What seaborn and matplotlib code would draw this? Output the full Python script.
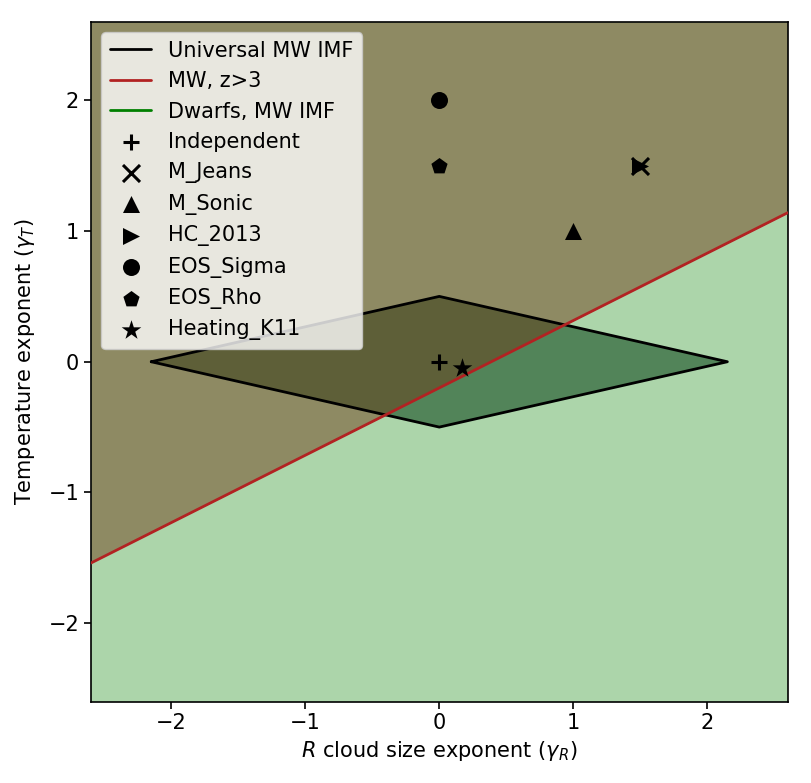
import numpy as np
import pandas as pd
import matplotlib
matplotlib.use("Agg")
import matplotlib.pyplot as plt
import seaborn as sns

# Data
diamond_x = [-2.15, 0.0, 2.15, 0.0, -2.15]
diamond_y = [0.0, 0.5, 0.0, -0.5, 0.0]

mw_x = [-2.6, 2.6]
mw_y = [-1.54, 1.14]

models = ["Independent", "M_Jeans", "M_Sonic", "HC_2013", "EOS_Sigma", "EOS_Rho", "Heating_K11"]
model_x = [0.0, 1.5, 1.0, 1.5, 0.0, 0.0, 0.17]
model_y = [0.0, 1.5, 1.0, 1.5, 2.0, 1.5, -0.05]
model_markers = ["+", "x", "^", ">", "o", "p", "*"]
model_sizes = [130, 150, 150, 150, 150, 150, 220]

sns.set_style("ticks")
plt.rcParams["font.family"] = ["DejaVu Sans"]
plt.rcParams.update({
    "font.size": 15,
    "text.color": "black",
    "axes.labelcolor": "black",
    "xtick.color": "black",
    "ytick.color": "black",
    "axes.edgecolor": "black",
    "xtick.direction": "out",
    "ytick.direction": "out",
})

fig, ax = plt.subplots(figsize=(8.12, 7.83), dpi=100)
fig.subplots_adjust(left=0.112, right=0.970, top=0.972, bottom=0.104)

lim = (-2.6, 2.6)
ax.set_facecolor("#acd5aa")

# diamond: Universal MW IMF
ax.fill(diamond_x, diamond_y, color="#003a10", alpha=0.52, lw=0, zorder=1)
# region above the MW z>3 line
ax.fill_between(mw_x, mw_y, [lim[1], lim[1]], color="#6d3713", alpha=0.47, lw=0, zorder=2)

sns.lineplot(x=diamond_x, y=diamond_y, sort=False, estimator=None, color="black", lw=2,
             label="Universal MW IMF", ax=ax, zorder=3)
sns.lineplot(x=mw_x, y=mw_y, sort=False, estimator=None, color="#b22222", lw=2,
             label="MW, z>3", ax=ax, zorder=3)
ax.plot([], [], color="green", lw=2, label="Dwarfs, MW IMF")

for name, x, y, m, sz in zip(models, model_x, model_y, model_markers, model_sizes):
    lined = m in ("+", "x")
    sns.scatterplot(x=[x], y=[y], marker=m, color="black", s=sz,
                    linewidth=2.2 if lined else 0, label=name, ax=ax, zorder=4)

ax.set_xlim(*lim)
ax.set_ylim(*lim)
ax.set_xticks([-2, -1, 0, 1, 2])
ax.set_yticks([-2, -1, 0, 1, 2])
ax.tick_params(length=5, width=1.2, labelsize=15)
ax.set_xlabel(r"$R$ cloud size exponent ($\gamma_R$)", fontsize=15)
ax.set_ylabel(r"Temperature exponent ($\gamma_T$)", fontsize=15, labelpad=8)
for s in ax.spines.values():
    s.set_linewidth(1.2)
ax.legend(loc="upper left", framealpha=0.8, fontsize=15, borderaxespad=0.5)

fig.savefig("out.png", dpi=100)
